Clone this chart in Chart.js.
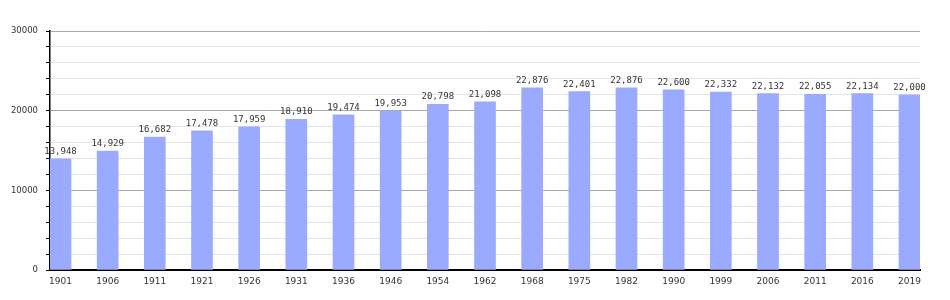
<!DOCTYPE html>
<html>
<head>
<meta charset="utf-8">
<script src="https://cdn.jsdelivr.net/npm/chart.js@4/dist/chart.umd.min.js"></script>
<style>
html,body{margin:0;padding:0;background:#fff;}
#wrap{width:950px;height:300px;position:relative;}
</style>
</head>
<body>
<div id="wrap"><canvas id="c" width="950" height="300"></canvas></div>
<script>
const years = ["1901","1906","1911","1921","1926","1931","1936","1946","1954","1962","1968","1975","1982","1990","1999","2006","2011","2016","2019"];
const population = [13948,14929,16682,17478,17959,18910,19474,19953,20798,21098,22876,22401,22876,22600,22332,22132,22055,22134,22000];
const yTickStep = 2000;
const yMax = 30000;

const points = years.map((y, i) => ({x: i, y: population[i]}));

const labelPlugin = {
  id: 'barLabels',
  afterDatasetsDraw(chart) {
    const ctx = chart.ctx;
    const meta = chart.getDatasetMeta(0);
    ctx.save();
    ctx.font = '9px "DejaVu Sans Mono"';
    ctx.fillStyle = '#333';
    ctx.textAlign = 'center';
    ctx.textBaseline = 'alphabetic';
    meta.data.forEach((bar, i) => {
      ctx.fillText(population[i].toLocaleString('en-US'), bar.x, bar.y - 5);
    });
    ctx.restore();
  }
};

new Chart(document.getElementById('c'), {
  type: 'bar',
  data: {
    datasets: [{
      data: points,
      backgroundColor: '#99aaff',
      borderWidth: 0,
      barThickness: 21
    }]
  },
  options: {
    responsive: false,
    animation: false,
    layout: {padding: {top: 31, right: 30, left: 0, bottom: 0}},
    plugins: {legend: {display: false}, tooltip: {enabled: false}},
    scales: {
      x: {
        type: 'linear',
        offset: false,
        min: -0.2226,
        max: 18.2226,
        afterBuildTicks(scale) { scale.ticks = years.map((_, i) => ({value: i})); },
        afterFit(scale) { scale.height = 30; },
        grid: {display: false, drawTicks: false, offset: false},
        border: {display: true, color: '#000', width: 2},
        ticks: {
          autoSkip: false,
          maxRotation: 0,
          padding: 6,
          color: '#333',
          font: {family: 'DejaVu Sans', size: 9},
          callback: (v) => years[v]
        }
      },
      y: {
        min: 0,
        max: yMax,
        afterFit(scale) { scale.width = 50; },
        grid: {
          color: (c) => (c.tick && c.tick.value % 10000 === 0) ? '#a8a8a8' : '#e4e4e4',
          tickColor: '#000',
          tickLength: 4,
          drawTicks: true
        },
        border: {display: true, color: '#000', width: 1.5},
        ticks: {
          stepSize: yTickStep,
          autoSkip: false,
          padding: 8,
          color: '#333',
          font: {family: 'DejaVu Sans', size: 8.5},
          callback: (v) => (v % 10000 === 0) ? String(v) : ''
        }
      }
    }
  },
  plugins: [labelPlugin]
});
</script>
</body>
</html>
